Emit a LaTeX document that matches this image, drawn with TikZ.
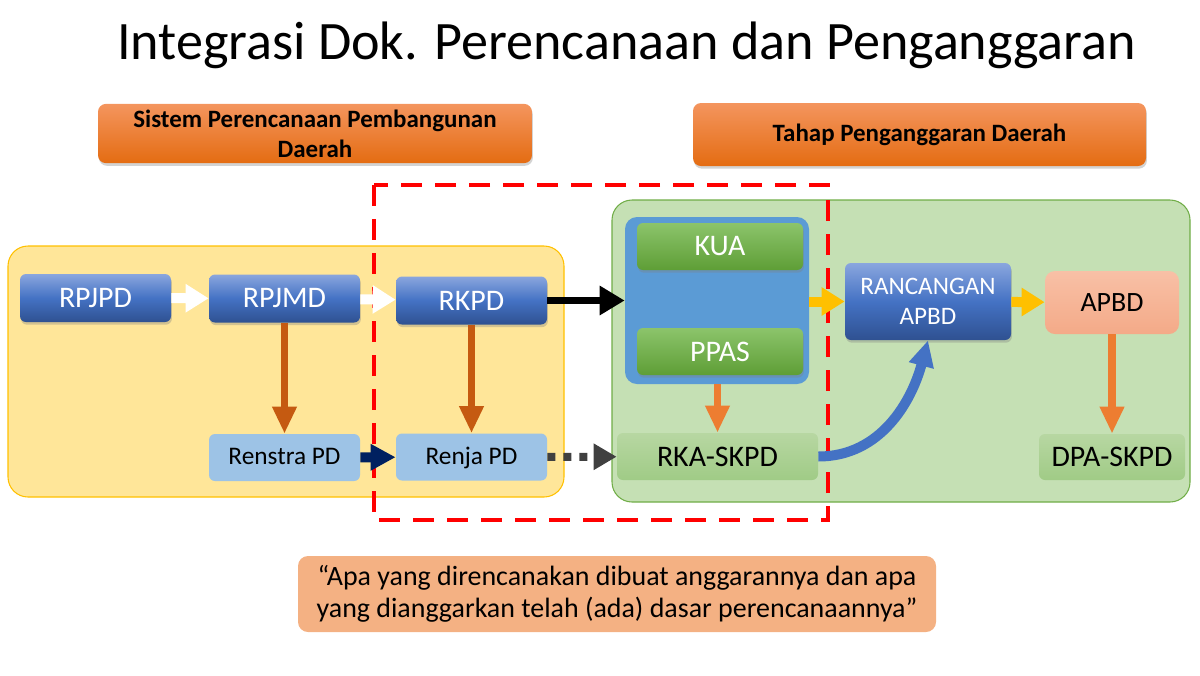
\documentclass[tikz,border=0pt]{standalone}
\usepackage{fontspec}
\setmainfont{Carlito}
\usetikzlibrary{arrows,arrows.meta,shapes,shadows}
\definecolor{planTop}{HTML}{8AA6DE}
\definecolor{planMid}{HTML}{4472C4}
\definecolor{planBot}{HTML}{2F5191}
\definecolor{docBlue}{HTML}{9DC3E6}
\definecolor{kuaTop}{HTML}{8CC46B}
\definecolor{kuaBot}{HTML}{5E9E36}
\definecolor{boxBlue}{HTML}{5B9BD5}
\definecolor{rkaTop}{HTML}{B7D7A2}
\definecolor{rkaBot}{HTML}{A0CB86}
\definecolor{apbdTop}{HTML}{F8C0A6}
\definecolor{apbdBot}{HTML}{F4AA88}
\definecolor{headTop}{HTML}{F4955E}
\definecolor{headBot}{HTML}{E46C12}
\definecolor{areaYellow}{HTML}{FFE699}
\definecolor{areaYellowLine}{HTML}{FFC000}
\definecolor{areaGreen}{HTML}{C5E0B4}
\definecolor{areaGreenLine}{HTML}{70AD47}
\definecolor{quotePink}{HTML}{F4B183}
\definecolor{brownArrow}{HTML}{C55A11}
\definecolor{orangeArrow}{HTML}{ED7D31}
\definecolor{yellowArrow}{HTML}{FFC000}
\definecolor{navyArrow}{HTML}{002060}
\definecolor{greyArrow}{HTML}{404040}
\definecolor{curveBlue}{HTML}{4472C4}
\tikzstyle{plan}=[rectangle,rounded corners=0.12cm,minimum width=3.02cm,minimum height=0.96cm,top color=planTop,bottom color=planBot,middle color=planMid,text=white,font=\fontsize{17}{18}\selectfont,drop shadow={opacity=0.35,shadow xshift=0.5pt,shadow yshift=-1.5pt}]
\tikzstyle{doc}=[rectangle,rounded corners=0.12cm,minimum width=3.02cm,minimum height=0.94cm,fill=docBlue,text height=1.8ex,text depth=0.1ex,font=\fontsize{14.4}{16}\selectfont]
\tikzstyle{policy}=[rectangle,rounded corners=0.12cm,minimum width=3.32cm,minimum height=0.94cm,top color=kuaTop,bottom color=kuaBot,text=white,font=\fontsize{17}{18}\selectfont,drop shadow={opacity=0.35,shadow xshift=0.5pt,shadow yshift=-1.5pt}]
\tikzstyle{budget}=[rectangle,rounded corners=0.12cm,minimum height=0.94cm,top color=rkaTop,bottom color=rkaBot,font=\fontsize{17}{18}\selectfont]
\tikzstyle{header}=[rectangle,rounded corners=0.16cm,top color=headTop,bottom color=headBot,align=center,font=\bfseries\fontsize{14.2}{17}\selectfont,drop shadow={opacity=0.35,shadow xshift=0.5pt,shadow yshift=-1.5pt}]
\tikzstyle{area}=[rectangle,rounded corners=0.4cm,line width=0.6pt]
\tikzstyle{blockarrow}=[line width=0.2cm,-{Triangle[length=0.46cm,width=0.54cm]}]
\tikzstyle{downarrow}=[line width=0.15cm,-{Triangle[length=0.54cm,width=0.46cm]}]

\begin{document}
\begin{tikzpicture}
    \useasboundingbox (0,0) rectangle (24,-13.5);
    % title and headers
    \node (title) at (12.53,-0.9) {\fontsize{30.8}{34}\selectfont Integrasi Dok. Perencanaan dan Penganggaran};
    \node[header,minimum width=8.68cm,minimum height=1.18cm] (hSPPD) at (6.3,-2.67) {Sistem Perencanaan Pembangunan\\Daerah};
    \node[header,minimum width=9.06cm,minimum height=1.26cm] (hTPD) at (18.39,-2.69) {Tahap Penganggaran Daerah};
    % the two areas
    \node[area,draw=areaYellowLine,fill=areaYellow,minimum width=11.12cm,minimum height=5.02cm] (spd) at (5.72,-7.43) {};
    \node[area,draw=areaGreenLine,fill=areaGreen,minimum width=11.56cm,minimum height=6.04cm] (tpd) at (18.02,-7.02) {};
    % red dashed frame
    \draw[red,line width=2.8pt,dash pattern=on 0.42cm off 0.26cm] (7.48,-3.7) rectangle (16.56,-10.4);
    % planning documents
    \foreach \pos/\name in {{(1.91,-5.96)/RPJPD}, {(5.69,-5.97)/RPJMD}, {(9.43,-6.01)/RKPD}}
        \node[plan] (\name) at \pos {\name};
    \node[doc] (Renstra) at (5.69,-9.15) {Renstra PD};
    \node[doc] (Renja) at (9.43,-9.14) {Renja PD};
    % budgeting documents
    \node[rectangle,rounded corners=0.24cm,fill=boxBlue,minimum width=3.68cm,minimum height=3.34cm] (kuappas) at (14.34,-6.01) {};
    \foreach \pos/\name in {{(14.4,-4.93)/KUA}, {(14.4,-7.03)/PPAS}}
        \node[policy] (\name) at \pos {\name};
    \node[budget,minimum width=4.02cm] (RKA) at (14.35,-9.13) {RKA-SKPD};
    \node[plan,minimum width=3.32cm,minimum height=1.54cm,align=center,font=\fontsize{14.3}{17}\selectfont] (RAPBD) at (18.56,-6.03) {RANCANGAN\\APBD};
    \node[rectangle,rounded corners=0.2cm,top color=apbdTop,bottom color=apbdBot,minimum width=2.68cm,minimum height=1.26cm,font=\fontsize{15.9}{18}\selectfont] (APBD) at (22.24,-6.05) {APBD};
    \node[budget,minimum width=2.92cm,minimum height=0.92cm] (DPA) at (22.24,-9.14) {DPA-SKPD};
    % quote
    \node[rectangle,rounded corners=0.2cm,fill=quotePink,minimum width=12.76cm,minimum height=1.52cm,align=center,font=\fontsize{15.9}{18.2}\selectfont] (quote) at (12.34,-11.88) {“Apa yang direncanakan dibuat anggarannya dan apa\\yang dianggarkan telah (ada) dasar perencanaannya”};
    % connect documents with arrows
    \foreach \source/ \dest in {RPJPD/RPJMD, RPJMD/RKPD}
        \draw[blockarrow,white] (\source) -- (\dest);
    \foreach \source/ \dest in {RPJMD/Renstra, RKPD/Renja}
        \draw[downarrow,brownArrow] (\source) -- (\dest);
    \draw[blockarrow,navyArrow,-{Triangle[length=0.5cm,width=0.5cm]}] (Renstra) -- (Renja);
    \draw[greyArrow,line width=0.16cm,dash pattern=on 0.16cm off 0.16cm,-{Triangle[length=0.46cm,width=0.5cm]}] (Renja) -- (RKA);
    \draw[black,line width=0.14cm,-{Triangle[length=0.5cm,width=0.56cm]}] (RKPD.east) -- (RKPD.east -| kuappas.west);
    \draw[blockarrow,yellowArrow] (kuappas.east |- RAPBD) -- (RAPBD);
    \draw[blockarrow,yellowArrow] (RAPBD) -- (APBD);
    \draw[downarrow,orangeArrow] (kuappas.south -| RKA) -- (RKA);
    \draw[downarrow,orangeArrow] (APBD) -- (DPA.north -| APBD);
    \draw[curveBlue,line width=0.2cm,-{Triangle[length=0.52cm,width=0.48cm]}] (RKA.east) to[out=0,in=-105] (RAPBD.south);
\end{tikzpicture}
\end{document}
